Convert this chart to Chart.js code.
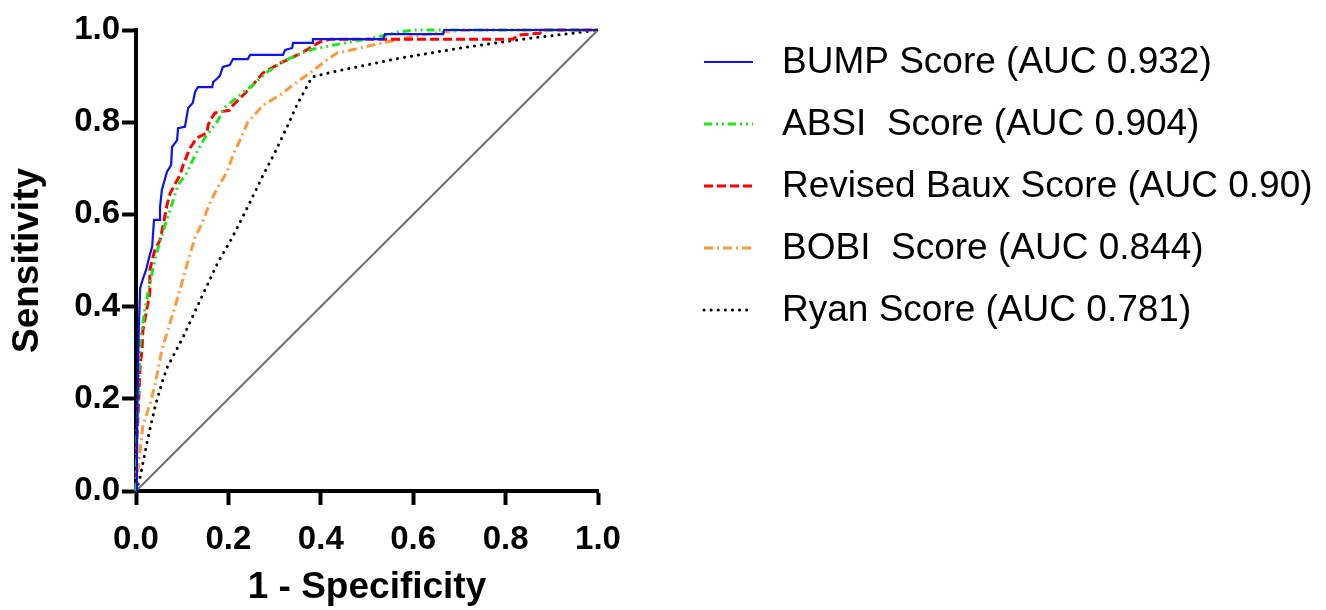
<!DOCTYPE html>
<html lang="en">
<head>
    <meta charset="UTF-8">
    <title>ROC curves</title>
    <script src="https://cdn.jsdelivr.net/npm/chart.js"></script>
    <style>
        html, body { margin: 0; padding: 0; background: #fff; }
        #wrap { width: 1326px; height: 610px; position: relative; }
    </style>
</head>
<body>
    <div id="wrap"><canvas id="rocChart"></canvas></div>

    <script>
        // Series names as shown in the legend
        const seriesNames = ['BUMP Score (AUC 0.932)', 'ABSI  Score (AUC 0.904)', 'Revised Baux Score (AUC 0.90)', 'BOBI  Score (AUC 0.844)', 'Ryan Score (AUC 0.781)'];
        const tickLabels = ['0.0', '0.2', '0.4', '0.6', '0.8', '1.0'];

        // 1 - specificity (x) and sensitivity (y)
        const bumpX = [0, 0.002, 0.004, 0.006, 0.009, 0.015, 0.022, 0.028, 0.035, 0.039, 0.052, 0.052, 0.056, 0.067, 0.076, 0.078, 0.089, 0.091, 0.106, 0.113, 0.123, 0.128, 0.134, 0.165, 0.167, 0.177, 0.182, 0.188, 0.203, 0.21, 0.242, 0.247, 0.318, 0.323, 0.338, 0.34, 0.381, 0.383, 0.535, 0.539, 0.665, 0.667, 1];
        const bumpY = [0, 0.11, 0.24, 0.35, 0.44, 0.46, 0.48, 0.505, 0.53, 0.588, 0.588, 0.616, 0.653, 0.692, 0.707, 0.746, 0.761, 0.787, 0.79, 0.831, 0.842, 0.866, 0.876, 0.876, 0.887, 0.896, 0.902, 0.92, 0.924, 0.937, 0.937, 0.946, 0.946, 0.957, 0.961, 0.972, 0.972, 0.98, 0.98, 0.991, 0.991, 1, 1];

        const absiX = [0, 0.002, 0.006, 0.009, 0.013, 0.019, 0.026, 0.03, 0.041, 0.048, 0.063, 0.074, 0.084, 0.091, 0.11, 0.121, 0.134, 0.149, 0.175, 0.193, 0.225, 0.253, 0.284, 0.318, 0.348, 0.377, 0.426, 0.522, 0.571, 0.604, 1];
        const absiY = [0, 0.132, 0.24, 0.321, 0.349, 0.393, 0.43, 0.451, 0.501, 0.527, 0.577, 0.61, 0.642, 0.664, 0.69, 0.714, 0.74, 0.766, 0.8, 0.833, 0.859, 0.881, 0.909, 0.931, 0.946, 0.957, 0.967, 0.985, 0.996, 1, 1];

        const bauxX = [0, 0.002, 0.006, 0.009, 0.013, 0.015, 0.026, 0.03, 0.03, 0.035, 0.041, 0.052, 0.058, 0.067, 0.074, 0.095, 0.102, 0.117, 0.132, 0.154, 0.156, 0.165, 0.171, 0.203, 0.21, 0.232, 0.247, 0.275, 0.318, 0.34, 0.37, 0.398, 0.42, 0.816, 0.827, 0.874, 0.881, 1];
        const bauxY = [0, 0.11, 0.2, 0.273, 0.306, 0.349, 0.408, 0.43, 0.479, 0.501, 0.523, 0.544, 0.573, 0.62, 0.646, 0.685, 0.707, 0.744, 0.766, 0.777, 0.794, 0.811, 0.82, 0.826, 0.837, 0.859, 0.874, 0.907, 0.931, 0.941, 0.957, 0.974, 0.98, 0.98, 0.989, 0.993, 1, 1];

        const bobiX = [0, 0.002, 0.009, 0.015, 0.03, 0.041, 0.056, 0.069, 0.08, 0.095, 0.11, 0.128, 0.143, 0.16, 0.177, 0.197, 0.21, 0.225, 0.242, 0.275, 0.312, 0.348, 0.377, 0.413, 0.435, 0.485, 0.543, 0.593, 0.665, 0.729, 1];
        const bobiY = [0, 0.024, 0.089, 0.143, 0.187, 0.23, 0.306, 0.349, 0.386, 0.436, 0.49, 0.551, 0.581, 0.625, 0.659, 0.692, 0.729, 0.761, 0.8, 0.837, 0.859, 0.887, 0.907, 0.935, 0.95, 0.961, 0.974, 0.985, 0.996, 1, 1];

        const ryanX = [0, 0.009, 0.024, 0.041, 0.056, 0.067, 0.102, 0.139, 0.177, 0.208, 0.247, 0.273, 0.301, 0.329, 0.348, 0.366, 0.381, 0.426, 0.571, 0.716, 0.859, 0.946, 1];
        const ryanY = [0, 0.03, 0.106, 0.182, 0.234, 0.267, 0.334, 0.414, 0.495, 0.549, 0.627, 0.681, 0.735, 0.794, 0.837, 0.87, 0.898, 0.909, 0.939, 0.963, 0.983, 0.993, 1];

        // reference line of no discrimination
        const chanceX = [0, 1];
        const chanceY = [0, 1];

        const toPoints = (xs, ys) => xs.map((x, i) => ({ x: x, y: ys[i] }));
        const FONT = "'Liberation Sans', Arial, sans-serif";

        // legend drawn to the right of the plot, like the original figure
        const sideLegend = {
            id: 'sideLegend',
            afterDraw(chart) {
                const ctx = chart.ctx;
                ctx.save();
                chart.data.datasets.forEach((ds, i) => {
                    if (ds.hideInLegend) return;
                    const y = 62 + i * 62;
                    ctx.beginPath();
                    ctx.setLineDash(ds.borderDash || []);
                    ctx.lineCap = ds.borderCapStyle || 'butt';
                    ctx.lineWidth = ds.borderWidth;
                    ctx.strokeStyle = ds.borderColor;
                    ctx.moveTo(704, y);
                    ctx.lineTo(753, y);
                    ctx.stroke();
                    ctx.setLineDash([]);
                    ctx.fillStyle = '#000';
                    ctx.font = '37px ' + FONT;
                    ctx.textBaseline = 'middle';
                    ctx.textAlign = 'left';
                    ctx.fillText(ds.label, 782, y + 1);
                });
                ctx.restore();
            }
        };

        const axisStyle = (title, tickPad) => ({
            type: 'linear',
            min: 0,
            max: 1,
            border: { display: true, color: '#000', width: 4 },
            grid: { display: true, drawOnChartArea: false, drawTicks: true, tickLength: 14, tickWidth: 4, tickColor: '#000' },
            ticks: {
                stepSize: 0.2,
                padding: tickPad,
                color: '#000',
                font: { family: FONT, size: 33, weight: 'bold' },
                callback: (v) => tickLabels[Math.round(v * 5)]
            },
            title: { display: true, text: title, color: '#000', font: { family: FONT, size: 37, weight: 'bold' } }
        });

        const xAxis = axisStyle('1 - Specificity', 15);
        xAxis.title.padding = { top: 4, bottom: 0 };
        xAxis.afterFit = (scale) => { scale.height = 119; };
        const yAxis = axisStyle('Sensitivity', 2);
        yAxis.afterFit = (scale) => { scale.width = 134; };

        new Chart(document.getElementById('rocChart'), {
            type: 'line',
            data: {
                datasets: [
                    { label: seriesNames[0], data: toPoints(bumpX, bumpY), borderColor: '#0a14f0', borderWidth: 2.2 },
                    { label: seriesNames[1], data: toPoints(absiX, absiY), borderColor: '#1ee61e', borderWidth: 3, borderDash: [8, 4, 2, 4, 2, 4] },
                    { label: seriesNames[2], data: toPoints(bauxX, bauxY), borderColor: '#ff0000', borderWidth: 3, borderDash: [9, 4] },
                    { label: seriesNames[3], data: toPoints(bobiX, bobiY), borderColor: '#ff9a3c', borderWidth: 3, borderDash: [9, 4, 2, 4] },
                    { label: seriesNames[4], data: toPoints(ryanX, ryanY), borderColor: '#000000', borderWidth: 3, borderDash: [0.1, 7], borderCapStyle: 'round' },
                    { label: 'chance', data: toPoints(chanceX, chanceY), borderColor: '#6e6e6e', borderWidth: 2, hideInLegend: true }
                ]
            },
            options: {
                responsive: true,
                maintainAspectRatio: false,
                animation: false,
                devicePixelRatio: 1,
                layout: { padding: { left: 2, top: 30, right: 728, bottom: 0 } },
                elements: { point: { radius: 0 }, line: { tension: 0, fill: false } },
                datasets: { line: { clip: false } },
                plugins: {
                    legend: { display: false },
                    tooltip: { enabled: false }
                },
                scales: { x: xAxis, y: yAxis }
            },
            plugins: [sideLegend]
        });
    </script>
</body>
</html>
